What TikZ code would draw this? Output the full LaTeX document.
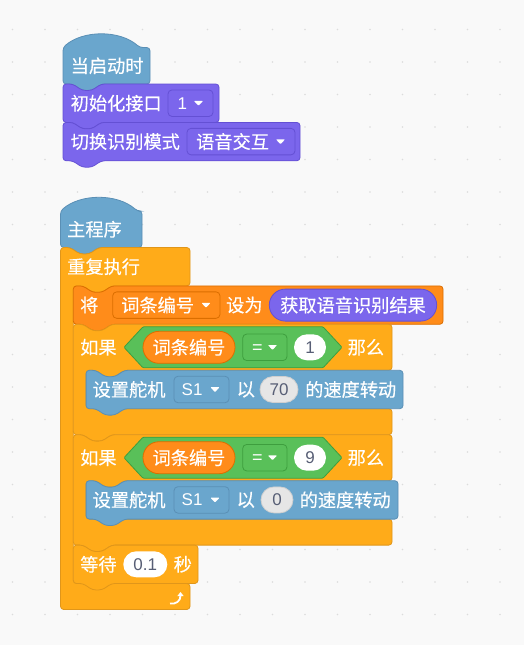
\documentclass[tikz,border=0pt]{standalone}
\usepackage{fontspec}
\setmainfont{Noto Sans CJK SC}[FakeBold=0.3]
\newfontfamily\latf{Liberation Sans}
\usetikzlibrary{shapes.misc,arrows.meta}
\definecolor{bgc}{HTML}{F9F9F9}
\definecolor{dotc}{HTML}{DCDCDC}
\definecolor{blu}{HTML}{6AA6CD}
\definecolor{blud}{HTML}{5A8FB5}
\definecolor{pur}{HTML}{7B66EC}
\definecolor{purd}{HTML}{6450D4}
\definecolor{ctl}{HTML}{FFAB19}
\definecolor{ctld}{HTML}{E0961A}
\definecolor{vor}{HTML}{FF8C1A}
\definecolor{vord}{HTML}{DB6E00}
\definecolor{grn}{HTML}{59C059}
\definecolor{grnd}{HTML}{3E9E3E}
\definecolor{itx}{HTML}{575E75}
\definecolor{gpill}{HTML}{E6E6E6}
\definecolor{gpilld}{HTML}{CFCFCF}
% stack block: style, L, T, R, B
\newcommand\StackBlk[5]{%
 \path[#1] (#2,{(#3+#5)/2}) -- (#2,#3) -- ({#2+9.6},#3) -- ({#2+19.2},{#3+6.4}) -- ({#2+28.8},{#3+6.4}) -- ({#2+38.4},#3) -- (#4,#3) -- (#4,#5) -- ({#2+38.4},#5) -- ({#2+28.8},{#5+6.4}) -- ({#2+19.2},{#5+6.4}) -- ({#2+9.6},#5) -- (#2,#5) -- cycle;}
% if block: style, L, T, R, armB, innerB, B
\newcommand\IfBlk[7]{%
 \path[#1] (#2,{(#3+#7)/2}) -- (#2,#3) -- ({#2+9.6},#3) -- ({#2+19.2},{#3+6.4}) -- ({#2+28.8},{#3+6.4}) -- ({#2+38.4},#3) -- (#4,#3) -- (#4,#5) -- ({#2+51.2},#5) -- ({#2+41.6},{#5+6.4}) -- ({#2+32},{#5+6.4}) -- ({#2+22.4},#5) -- ({#2+12.8},#5) -- ({#2+12.8},#6) -- (#4,#6) -- (#4,#7) -- ({#2+38.4},#7) -- ({#2+28.8},{#7+6.4}) -- ({#2+19.2},{#7+6.4}) -- ({#2+9.6},#7) -- (#2,#7) -- cycle;}
% loop block (flat bottom)
\newcommand\LoopBlk[7]{%
 \path[#1] (#2,{(#3+#7)/2}) -- (#2,#3) -- ({#2+9.6},#3) -- ({#2+19.2},{#3+6.4}) -- ({#2+28.8},{#3+6.4}) -- ({#2+38.4},#3) -- (#4,#3) -- (#4,#5) -- ({#2+51.2},#5) -- ({#2+41.6},{#5+6.4}) -- ({#2+32},{#5+6.4}) -- ({#2+22.4},#5) -- ({#2+12.8},#5) -- ({#2+12.8},#6) -- (#4,#6) -- (#4,#7) -- (#2,#7) -- cycle;}
% hat block: style, L, Tside, R, B
\newcommand\HatBlk[5]{%
 \path[#1] (#2,{(#3+#5)/2}) -- (#2,#3) .. controls ({#2+20},{#3-17.6}) and ({#2+56.8},{#3-17.6}) .. ({#2+76.8},#3) -- (#4,#3) -- (#4,#5) -- ({#2+38.4},#5) -- ({#2+28.8},{#5+6.4}) -- ({#2+19.2},{#5+6.4}) -- ({#2+9.6},#5) -- (#2,#5) -- cycle;}
\newcommand\DDArrow[2]{\fill[white, rounded corners=0.8] ({#1-4.6},{#2-2.3}) -- ({#1+4.6},{#2-2.3}) -- (#1,{#2+2.6}) -- cycle;}
% hexagon: style, L, R, center y
\newcommand\HexBool[4]{%
 \path[#1] (#2,#4) -- ({#2+19},{#4-20.5}) -- ({#3-19},{#4-20.5}) -- (#3,#4) -- ({#3-19},{#4+20.5}) -- ({#2+19},{#4+20.5}) -- cycle;}
\begin{document}
\begin{tikzpicture}[x=1pt,y=-1pt,
  blk/.style={rounded corners=3.2, line width=0.8},
  t/.style={inner sep=0, anchor=west, text=white, font=\fontsize{18.2}{20}\selectfont},
  tc/.style={inner sep=0, text=white, font=\fontsize{18.2}{20}\selectfont},
  lt/.style={inner sep=0, anchor=west, text=white, font=\latf\fontsize{17}{20}\selectfont},
  num/.style={inner sep=0, text=itx, font=\latf\fontsize{17}{20}\selectfont},
  dd/.style={rectangle, rounded corners=4, line width=0.8, inner sep=0, minimum height=26.5},
  pill/.style={rounded rectangle, line width=0.8, inner sep=0},
]
\fill[bgc] (0,0) rectangle (524,645);
\useasboundingbox (0,0) rectangle (524,645);
\foreach \i in {0,...,15}{\foreach \j in {0,...,18}{\fill[dotc] ({12.5+32.5*\i},{29.5+32.5*\j}) circle (0.9);}}

% ---------- group 1 ----------
\HatBlk{blk,fill=blu,draw=blud}{63}{47.5}{150}{84}
\node[t] (h1) at (70.5,65.75) {当启动时};
\StackBlk{blk,fill=pur,draw=purd}{63}{84}{219}{122.4}
\node[t] (b1) at (70.5,103.2) {初始化接口};
\node[dd, fill=pur, draw=purd, minimum width=45] (dd1) at (190.5,103.2) {};
\node[lt] (dd1t) at (177.5,103.2) {1};
\DDArrow{198.5}{103.2}
\StackBlk{blk,fill=pur,draw=purd}{63}{122.4}{300}{160.8}
\node[t] (b2) at (70.5,141.6) {切换识别模式};
\node[dd, fill=pur, draw=purd, minimum width=108] (dd2) at (241,141.6) {};
\node[t] (dd2t) at (196,141.6) {语音交互};
\DDArrow{280.5}{141.6}

% ---------- group 2 ----------
\HatBlk{blk,fill=blu,draw=blud}{60.5}{211}{142}{247.5}
\node[t] (h2) at (67,229.25) {主程序};
\LoopBlk{blk,fill=ctl,draw=ctld}{60.5}{247.5}{190}{285.9}{583.5}{609.5}
\node[t] (loop) at (67,266.7) {重复执行};
\coordinate (la) at (170,603.5);
\coordinate (lb) at (180.5,592);
\draw[white, line width=1.8, -{Triangle[width=6,length=4]}] (la) .. controls (176,604.5) and (180.5,601) .. (lb);

% set variable
\StackBlk{blk,fill=vor,draw=vord}{73.3}{285.9}{443}{324.3}
\node[t] (setw) at (80,305.1) {将};
\node[dd, fill=vor, draw=vord, minimum width=107.3] (dd3) at (166.35,305.1) {};
\node[t] (dd3t) at (121,305.1) {词条编号};
\DDArrow{206}{305.1}
\node[t] (setto) at (226,305.1) {设为};
\node[pill, fill=pur, draw=purd, minimum width=167.4, minimum height=32] (rep) at (353,305.1) {};
\node[tc] (rept) at (rep.center) {获取语音识别结果};

% if 1
\IfBlk{blk,fill=ctl,draw=ctld}{73.3}{324.3}{392}{370.3}{408.7}{434.7}
\node[t] (if1) at (80,347.3) {如果};
\HexBool{fill=grn,draw=grnd,line width=0.8,rounded corners=1}{124}{342}{347.3}
\node[pill, fill=vor, draw=vord, minimum width=92, minimum height=32] (v1) at (189,347.3) {};
\node[tc] (v1t) at (v1.center) {词条编号};
\node[dd, fill=grn, draw=grnd, minimum width=44.3] (eq1) at (264.85,347.3) {};
\node[lt, font=\latf\fontsize{18}{20}\selectfont] (eq1t) at (252,349) {=};
\DDArrow{272.5}{347.3}
\node[pill, fill=white, minimum width=32, minimum height=26] (n1) at (310,347.3) {};
\node[num] (n1t) at (n1.center) {1};
\node[t] (then1) at (347.5,347.3) {那么};
\StackBlk{blk,fill=blu,draw=blud}{86.1}{370.3}{403}{408.7}
\node[t] (m1) at (92.5,389.5) {设置舵机};
\node[dd, fill=blu, draw=blud, minimum width=55] (s1) at (201.5,389.5) {};
\node[lt] (s1t) at (181.5,389.5) {S1};
\DDArrow{215}{389.5}
\node[t] (y1) at (236.5,389.5) {以};
\node[pill, fill=gpill, draw=gpilld, minimum width=38, minimum height=26] (sp1) at (279,389.5) {};
\node[num] (sp1t) at (sp1.center) {70};
\node[t] (r1) at (305,389.5) {的速度转动};

% if 2
\IfBlk{blk,fill=ctl,draw=ctld}{73.3}{434.7}{392}{480.7}{519.1}{545.1}
\node[t] (if2) at (80,457.7) {如果};
\HexBool{fill=grn,draw=grnd,line width=0.8,rounded corners=1}{124}{342}{457.7}
\node[pill, fill=vor, draw=vord, minimum width=92, minimum height=32] (v2) at (189,457.7) {};
\node[tc] (v2t) at (v2.center) {词条编号};
\node[dd, fill=grn, draw=grnd, minimum width=44.3] (eq2) at (264.85,457.7) {};
\node[lt, font=\latf\fontsize{18}{20}\selectfont] (eq2t) at (252,459.4) {=};
\DDArrow{272.5}{457.7}
\node[pill, fill=white, minimum width=32, minimum height=26] (n2) at (310,457.7) {};
\node[num] (n2t) at (n2.center) {9};
\node[t] (then2) at (347.5,457.7) {那么};
\StackBlk{blk,fill=blu,draw=blud}{86.1}{480.7}{398}{519.1}
\node[t] (m2) at (92.5,499.9) {设置舵机};
\node[dd, fill=blu, draw=blud, minimum width=55] (s2) at (201.5,499.9) {};
\node[lt] (s2t) at (181.5,499.9) {S1};
\DDArrow{215}{499.9}
\node[t] (y2) at (236.5,499.9) {以};
\node[pill, fill=gpill, draw=gpilld, minimum width=32, minimum height=26] (sp2) at (277,499.9) {};
\node[num] (sp2t) at (sp2.center) {0};
\node[t] (r2) at (299.5,499.9) {的速度转动};

% wait
\StackBlk{blk,fill=ctl,draw=ctld}{73.3}{545.1}{198}{583.5}
\node[t] (w) at (80,564.3) {等待};
\node[pill, fill=white, minimum width=44, minimum height=26] (wp) at (145.3,564.3) {};
\node[num] (wpt) at (wp.center) {0.1};
\node[t] (sec) at (173.5,564.3) {秒};
\end{tikzpicture}
\end{document}
